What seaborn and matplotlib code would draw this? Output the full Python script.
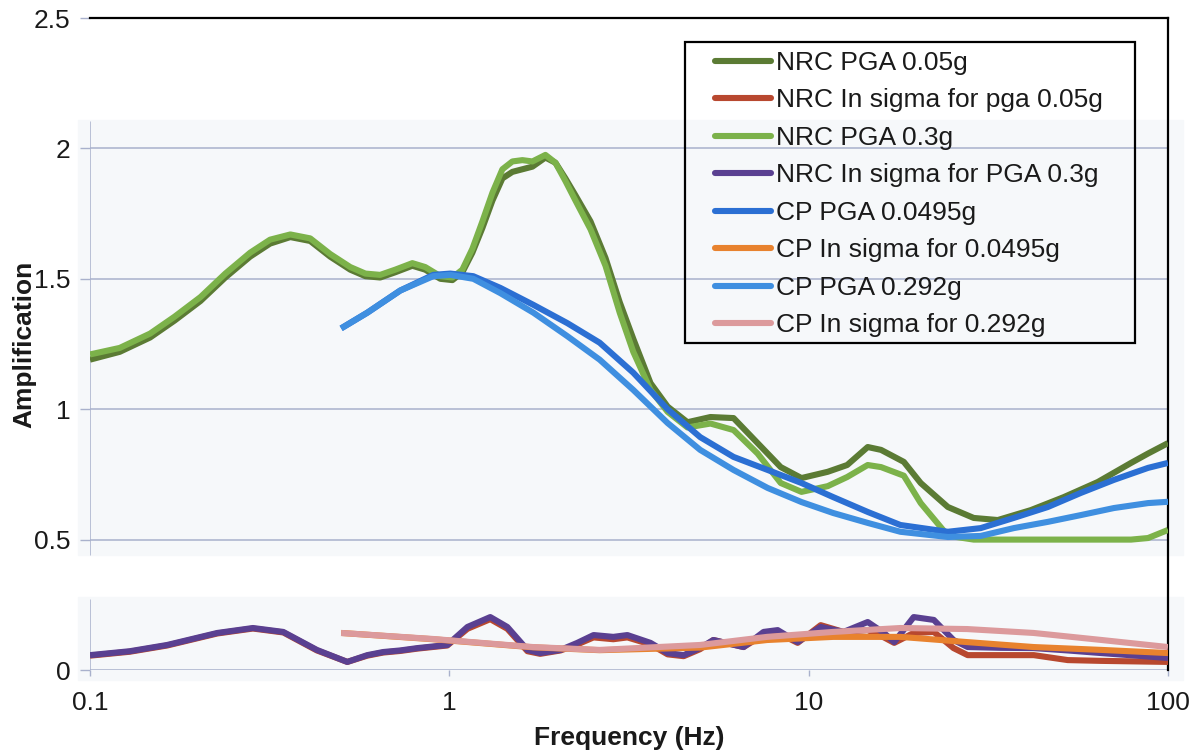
import numpy as np
import matplotlib
matplotlib.use("Agg")
import matplotlib.pyplot as plt
from matplotlib.patches import Rectangle
from matplotlib.lines import Line2D
import seaborn as sns

# NRC amplification curves
freq_nrc = [0.1, 0.121, 0.147, 0.172, 0.203, 0.238, 0.279, 0.317, 0.361, 0.410,
            0.466, 0.530, 0.584, 0.642, 0.707, 0.789, 0.857, 0.944, 1.02, 1.087,
            1.159, 1.236, 1.318, 1.405, 1.498, 1.597, 1.703, 1.851, 1.974, 2.104,
            2.244, 2.471, 2.72, 2.98, 3.25, 3.63, 4.05, 4.60, 5.33, 6.18,
            7.21, 8.36, 9.55, 11.3, 12.8, 14.6, 15.9, 18.4, 20.5, 24.4,
            28.8, 33.6, 41.5, 51.3, 63.8, 78.9, 88.0, 100]
nrc_pga_005 = [1.19, 1.22, 1.275, 1.34, 1.415, 1.505, 1.585, 1.635, 1.66, 1.645,
               1.585, 1.535, 1.51, 1.505, 1.525, 1.55, 1.535, 1.50, 1.495, 1.525,
               1.60, 1.695, 1.80, 1.885, 1.91, 1.92, 1.93, 1.965, 1.945, 1.885,
               1.82, 1.72, 1.58, 1.41, 1.27, 1.10, 1.01, 0.95, 0.97, 0.966,
               0.87, 0.778, 0.736, 0.76, 0.786, 0.855, 0.844, 0.798, 0.717, 0.625,
               0.583, 0.575, 0.613, 0.663, 0.721, 0.794, 0.83, 0.87]
nrc_pga_03 = [1.21, 1.235, 1.29, 1.355, 1.43, 1.52, 1.60, 1.65, 1.67, 1.655,
              1.595, 1.545, 1.52, 1.515, 1.535, 1.56, 1.545, 1.51, 1.505, 1.535,
              1.615, 1.72, 1.83, 1.92, 1.95, 1.955, 1.95, 1.975, 1.945, 1.875,
              1.80, 1.69, 1.55, 1.37, 1.22, 1.074, 0.99, 0.93, 0.945, 0.92,
              0.83, 0.717, 0.683, 0.705, 0.74, 0.786, 0.778, 0.745, 0.64, 0.515,
              0.50, 0.50, 0.50, 0.50, 0.50, 0.50, 0.506, 0.537]

# CP amplification curves
freq_cp = [0.5, 0.591, 0.730, 0.902, 1.006, 1.166, 1.387, 1.714, 2.13, 2.62,
           3.25, 4.05, 4.99, 6.18, 7.69, 9.55, 11.7, 14.6, 18.0, 24.4,
           30.1, 37.2, 46.3, 57.2, 70.7, 88.0, 100]
cp_pga_00495 = [1.31, 1.37, 1.455, 1.515, 1.52, 1.51, 1.465, 1.40, 1.33, 1.255,
                1.14, 1.0, 0.893, 0.817, 0.767, 0.717, 0.663, 0.606, 0.556, 0.53,
                0.544, 0.583, 0.625, 0.679, 0.729, 0.775, 0.794]
cp_pga_0292 = [1.31, 1.37, 1.455, 1.51, 1.515, 1.50, 1.445, 1.37, 1.28, 1.19,
               1.074, 0.947, 0.844, 0.767, 0.698, 0.644, 0.602, 0.564, 0.53, 0.51,
               0.514, 0.544, 0.568, 0.594, 0.621, 0.64, 0.645]

# NRC ln sigma
freq_sig = [0.1, 0.129, 0.164, 0.226, 0.284, 0.345, 0.428, 0.52, 0.591, 0.655,
            0.73, 0.815, 0.987, 1.123, 1.30, 1.45, 1.65, 1.79, 2.04, 2.27,
            2.52, 2.86, 3.13, 3.63, 4.05, 4.49, 4.99, 5.43, 6.59, 7.49,
            8.2, 9.32, 10.8, 12.5, 14.6, 16.2, 17.3, 19.6, 22.3, 25.3,
            27.7, 34.3, 42.3, 52.6, 65.1, 100]
nrc_sig_005 = [0.055, 0.070, 0.094, 0.140, 0.159, 0.144, 0.075, 0.031, 0.055, 0.067,
               0.073, 0.082, 0.094, 0.158, 0.195, 0.158, 0.072, 0.062, 0.075, 0.098,
               0.125, 0.118, 0.125, 0.098, 0.06, 0.053, 0.08, 0.115, 0.088, 0.135,
               0.142, 0.104, 0.172, 0.146, 0.153, 0.125, 0.104, 0.142, 0.146, 0.084,
               0.057, 0.057, 0.057, 0.038, 0.035, 0.031]
nrc_sig_03 = [0.057, 0.072, 0.096, 0.142, 0.161, 0.146, 0.077, 0.031, 0.057, 0.069,
              0.075, 0.084, 0.096, 0.165, 0.203, 0.165, 0.077, 0.065, 0.077, 0.104,
              0.134, 0.127, 0.134, 0.104, 0.065, 0.057, 0.085, 0.115, 0.088, 0.146,
              0.153, 0.107, 0.165, 0.146, 0.184, 0.142, 0.107, 0.203, 0.192, 0.115,
              0.088, 0.085, 0.084, 0.075, 0.065, 0.046]

# CP ln sigma
freq_cp_sig = [0.5, 0.90, 1.71, 2.62, 4.99, 7.66, 11.7, 18.0, 27.6, 42.3, 65.4, 100]
cp_sig_00495 = [0.142, 0.118, 0.087, 0.076, 0.086, 0.115, 0.127, 0.127, 0.107, 0.088,
                0.077, 0.065]
cp_sig_0292 = [0.142, 0.119, 0.088, 0.077, 0.096, 0.127, 0.146, 0.161, 0.157, 0.142,
               0.115, 0.088]

series = [
    ("NRC PGA 0.05g", freq_nrc, nrc_pga_005, "#5b7b34"),
    ("NRC In sigma for pga 0.05g", freq_sig, nrc_sig_005, "#b8482f"),
    ("NRC PGA 0.3g", freq_nrc, nrc_pga_03, "#7cb24a"),
    ("NRC In sigma for PGA 0.3g", freq_sig, nrc_sig_03, "#5a4091"),
    ("CP PGA 0.0495g", freq_cp, cp_pga_00495, "#2b6fd3"),
    ("CP In sigma for 0.0495g", freq_cp_sig, cp_sig_00495, "#e8822e"),
    ("CP PGA 0.292g", freq_cp, cp_pga_0292, "#3f8fe0"),
    ("CP In sigma for 0.292g", freq_cp_sig, cp_sig_0292, "#dc9a9c"),
]

sns.set_theme(style="white")
plt.rcParams["font.family"] = ["Liberation Sans", "DejaVu Sans"]
plt.rcParams["text.color"] = "#1a1a1a"
plt.rcParams["xtick.labelcolor"] = "#1a1a1a"
plt.rcParams["ytick.labelcolor"] = "#1a1a1a"
plt.rcParams["axes.labelcolor"] = "#1a1a1a"

W, H = 1199, 756
fig = plt.figure(figsize=(W / 100, H / 100), dpi=100)
ax = fig.add_axes([90 / W, 86 / H, 1078 / W, 652 / H])
ax.patch.set_visible(False)
ax.set_zorder(1)

# light panel backgrounds (upper and lower part of the broken axis)
bg = "#f6f8fa"
fig.patches.append(Rectangle((78 / W, 1 - 555 / H), (1183 - 78) / W, (555 - 120) / H,
                             transform=fig.transFigure, color=bg, zorder=0))
fig.patches.append(Rectangle((78 / W, 1 - 680 / H), (1183 - 78) / W, (680 - 597) / H,
                             transform=fig.transFigure, color=bg, zorder=0))

grid_c = "#a9b1cc"
for yv in [0, 0.5, 1, 1.5, 2]:
    ax.axhline(yv, color=grid_c, lw=1.1, zorder=1)

for name, fx, fy, col in series:
    sns.lineplot(x=fx, y=fy, ax=ax, color=col, linewidth=4.4, estimator=None,
                 sort=False, zorder=3)
    ax.lines[-1].set_solid_joinstyle("round")
    ax.lines[-1].set_solid_capstyle("butt")

ax.set_xscale("log")
ax.set_xlim(0.1, 100)
ax.set_ylim(0, 2.5)

ax.set_xticks([0.1, 1, 10, 100], labels=["0.1", "1", "10", "100"])
ax.set_yticks([0, 0.5, 1, 1.5, 2, 2.5], labels=["0", "0.5", "1", "1.5", "2", "2.5"])
ax.minorticks_off()
ax.tick_params(axis="y", direction="out", length=7, width=1, color=grid_c,
               labelsize=19, pad=7, left=True)
ax.tick_params(axis="x", direction="out", length=4, width=1, color=grid_c,
               labelsize=19, pad=11, bottom=True)

ax.spines["top"].set_color("black")
ax.spines["top"].set_linewidth(1.6)
ax.spines["right"].set_color("black")
ax.spines["right"].set_linewidth(1.6)
ax.spines["bottom"].set_visible(False)
ax.spines["left"].set_visible(False)
# broken left axis line
ax.axvline(0.1, ymin=0, ymax=0.27 / 2.5, color=grid_c, lw=1.1)
ax.axvline(0.1, ymin=0.44 / 2.5, ymax=2.1 / 2.5, color=grid_c, lw=1.1)

ax.set_xlabel("Frequency (Hz)", fontsize=19, fontweight="bold", labelpad=8)
ax.set_ylabel("Amplification", fontsize=19, fontweight="bold", labelpad=-2)

# legend frame drawn as a plain box, entries placed inside
ax.add_patch(Rectangle((0.552, 0.5015), 0.969 - 0.552, 0.963 - 0.5015,
                       transform=ax.transAxes, fill=False, edgecolor="black",
                       lw=1.6, zorder=5))
handles = [Line2D([], [], color=c, lw=4.4) for _, _, _, c in series]
labels = [s[0] for s in series]
leg = ax.legend(handles, labels, loc="upper left", bbox_to_anchor=(0.580, 0.9494),
                frameon=False, fontsize=19, borderpad=0, borderaxespad=0,
                handlelength=2.1, handletextpad=0.2, labelspacing=0.51)
leg.set_zorder(6)

fig.savefig("out.png", dpi=100)
